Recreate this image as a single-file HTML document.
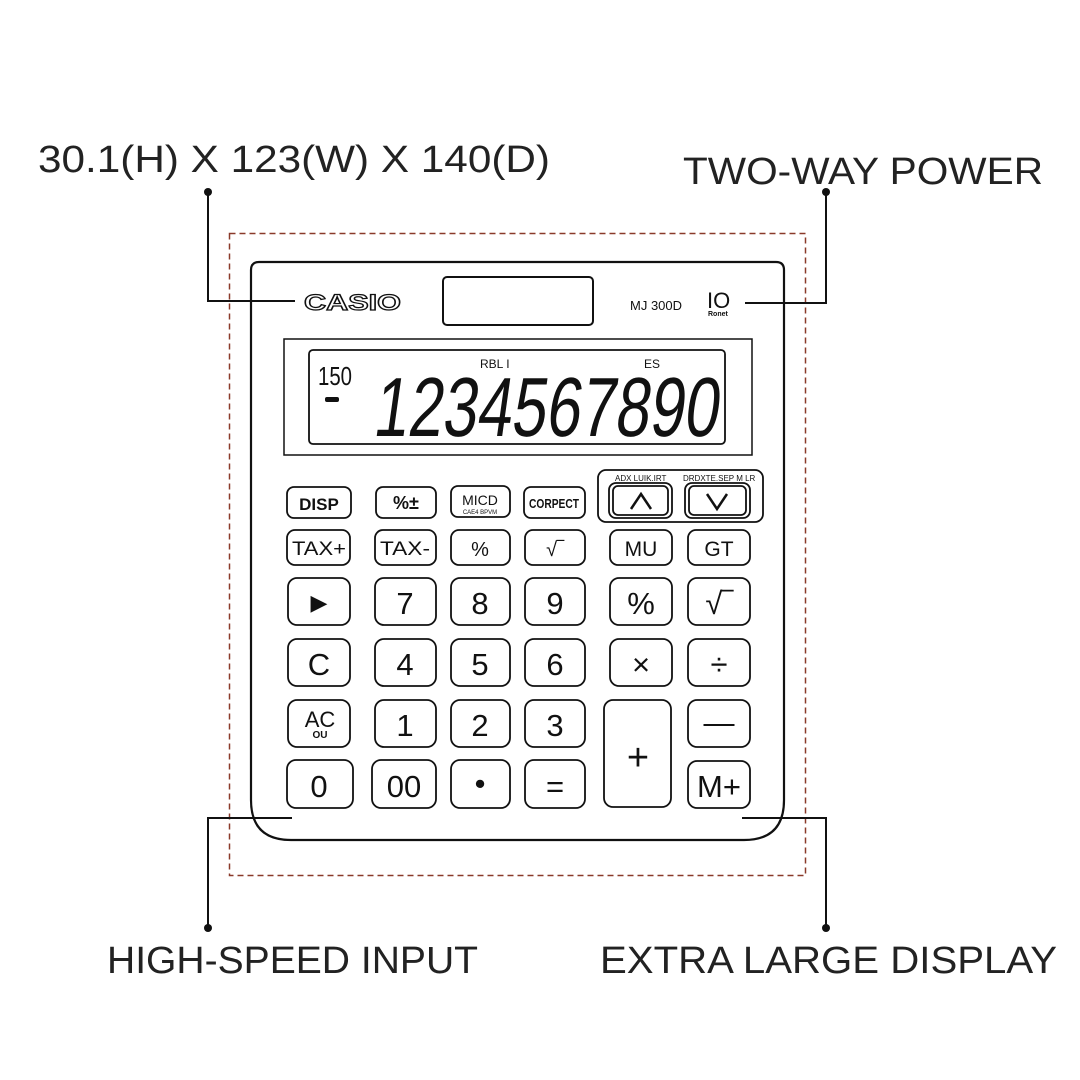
<!DOCTYPE html>
<html><head><meta charset="utf-8"><style>html,body{margin:0;padding:0;background:#fff}svg{display:block}</style></head>
<body>
<svg width="1080" height="1080" viewBox="0 0 1080 1080" xmlns="http://www.w3.org/2000/svg" font-family="Liberation Sans, sans-serif">
<rect width="1080" height="1080" fill="#fff"/>
<g font-size="38" fill="#222" font-weight="300">
<text x="38" y="172" textLength="512" lengthAdjust="spacingAndGlyphs">30.1(H) X 123(W) X 140(D)</text>
<text x="683" y="184" textLength="360" lengthAdjust="spacingAndGlyphs">TWO-WAY POWER</text>
<text x="107" y="973" textLength="371" lengthAdjust="spacingAndGlyphs">HIGH-SPEED INPUT</text>
<text x="600" y="973" textLength="457" lengthAdjust="spacingAndGlyphs">EXTRA LARGE DISPLAY</text>
</g>
<rect x="229.5" y="233.5" width="576" height="642" fill="none" stroke="#8a3a2a" stroke-width="1.5" stroke-dasharray="6,4"/>
<!-- body -->
<path d="M259 262 H776 Q784 262 784 270 V800 Q784 840 744 840 H291 Q251 840 251 800 V270 Q251 262 259 262 Z" fill="#fff" stroke="#111" stroke-width="2.2"/>
<!-- connectors -->
<g stroke="#111" stroke-width="2" fill="none">
<path d="M208 192 V301 H295"/>
<path d="M826 192 V303 H745"/>
<path d="M208 928 V818 H292"/>
<path d="M826 928 V818 H742"/>
</g>
<g fill="#111"><circle cx="208" cy="192" r="4"/><circle cx="826" cy="192" r="4"/><circle cx="208" cy="928" r="4"/><circle cx="826" cy="928" r="4"/></g>
<text x="304" y="310" font-size="22" font-weight="bold" fill="#fff" stroke="#111" stroke-width="1.2" textLength="97" lengthAdjust="spacingAndGlyphs">CASIO</text>
<rect x="443" y="277" width="150" height="48" rx="4" fill="#fff" stroke="#111" stroke-width="2"/>
<text x="630" y="310" font-size="13" fill="#111">MJ 300D</text>
<text x="707" y="308" font-size="22" fill="#111">IO</text>
<text x="708" y="316" font-size="7" font-weight="bold" fill="#111">Ronet</text>
<!-- display -->
<rect x="284" y="339" width="468" height="116" fill="#fff" stroke="#111" stroke-width="1.5"/>
<rect x="309" y="350" width="416" height="94" rx="4" fill="#fff" stroke="#111" stroke-width="1.8"/>
<text x="318" y="385" font-size="26" font-family="Liberation Sans Narrow, sans-serif" fill="#111" textLength="34" lengthAdjust="spacingAndGlyphs">150</text>
<rect x="325" y="397" width="14" height="5" rx="2" fill="#111"/>
<text x="480" y="368" font-size="12" fill="#111">RBL I</text>
<text x="644" y="368" font-size="12" fill="#111">ES</text>
<text x="0" y="0" transform="translate(372,436) skewX(-8)" font-size="84" font-family="Liberation Sans Narrow, sans-serif" fill="#111" textLength="345" lengthAdjust="spacingAndGlyphs">1234567890</text>
<!-- arrows group box -->
<rect x="598" y="470" width="165" height="52" rx="8" fill="#fff" stroke="#111" stroke-width="1.8"/>
<text x="615" y="481" font-size="8" fill="#111">ADX LUIK.IRT</text>
<text x="683" y="481" font-size="8" fill="#111">DRDXTE.SEP M LR</text>
<g fill="#fff" stroke="#111" stroke-width="1.8">
<rect x="609" y="483" width="63" height="35" rx="7"/><rect x="613" y="486" width="55" height="29" rx="5"/>
<rect x="685" y="483" width="65" height="35" rx="7"/><rect x="689" y="486" width="57" height="29" rx="5"/>
</g>
<path d="M631 509 L641 494 L651 509" stroke="#111" stroke-width="2.5" fill="none"/>
<path d="M707 494 L717 509 L727 494" stroke="#111" stroke-width="2.5" fill="none"/>
<!-- keys -->
<g fill="#fff" stroke="#111" stroke-width="1.8">
<rect x="287" y="487" width="64" height="31" rx="7"/><rect x="376" y="487" width="60" height="31" rx="7"/><rect x="451" y="486" width="59" height="31" rx="7"/><rect x="524" y="487" width="61" height="31" rx="7"/>
<rect x="287" y="530" width="63" height="35" rx="8"/><rect x="375" y="530" width="61" height="35" rx="8"/><rect x="451" y="530" width="59" height="35" rx="8"/><rect x="525" y="530" width="60" height="35" rx="8"/><rect x="610" y="530" width="62" height="35" rx="8"/><rect x="688" y="530" width="62" height="35" rx="8"/>
<rect x="288" y="578" width="62" height="47" rx="9"/><rect x="375" y="578" width="61" height="47" rx="9"/><rect x="451" y="578" width="59" height="47" rx="9"/><rect x="525" y="578" width="60" height="47" rx="9"/><rect x="610" y="578" width="62" height="47" rx="9"/><rect x="688" y="578" width="62" height="47" rx="9"/>
<rect x="288" y="639" width="62" height="47" rx="9"/><rect x="375" y="639" width="61" height="47" rx="9"/><rect x="451" y="639" width="59" height="47" rx="9"/><rect x="525" y="639" width="60" height="47" rx="9"/><rect x="610" y="639" width="62" height="47" rx="9"/><rect x="688" y="639" width="62" height="47" rx="9"/>
<rect x="288" y="700" width="62" height="47" rx="9"/><rect x="375" y="700" width="61" height="47" rx="9"/><rect x="451" y="700" width="59" height="47" rx="9"/><rect x="525" y="700" width="60" height="47" rx="9"/><rect x="604" y="700" width="67" height="107" rx="9"/><rect x="688" y="700" width="62" height="47" rx="9"/>
<rect x="287" y="760" width="66" height="48" rx="9"/><rect x="372" y="760" width="64" height="48" rx="9"/><rect x="451" y="760" width="59" height="48" rx="9"/><rect x="525" y="760" width="60" height="48" rx="9"/><rect x="688" y="761" width="62" height="47" rx="9"/>
</g>
<g fill="#111" text-anchor="middle">
<text x="319" y="510" font-size="17" font-weight="bold">DISP</text>
<text x="406" y="509" font-size="18" font-weight="bold">%±</text>
<text x="480" y="505" font-size="14">MICD</text>
<text x="480" y="514" font-size="6">CAE4 BPVM</text>
<text x="554" y="508" font-size="13" font-weight="bold" textLength="50" lengthAdjust="spacingAndGlyphs">CORPECT</text>
<text x="319" y="555" font-size="19" textLength="54" lengthAdjust="spacingAndGlyphs">TAX+</text>
<text x="405" y="555" font-size="19" textLength="50" lengthAdjust="spacingAndGlyphs">TAX-</text>
<text x="480" y="556" font-size="20">%</text>
<text x="555" y="556" font-size="20">√‾</text>
<text x="641" y="556" font-size="21">MU</text>
<text x="719" y="556" font-size="21">GT</text>
<text x="319" y="610" font-size="22">▶</text>
<g font-size="31">
<text x="405" y="614">7</text><text x="480" y="614">8</text><text x="555" y="614">9</text><text x="641" y="614">%</text><text x="719" y="614">√‾</text>
<text x="319" y="675">C</text><text x="405" y="675">4</text><text x="480" y="675">5</text><text x="555" y="675">6</text><text x="641" y="675">×</text><text x="719" y="675">÷</text>
<text x="405" y="736">1</text><text x="480" y="736">2</text><text x="555" y="736">3</text><text x="719" y="733">—</text>
<text x="319" y="797">0</text><text x="404" y="797">00</text><text x="480" y="794">•</text><text x="555" y="797">=</text><text x="719" y="797">M+</text>
</g>
<text x="638" y="770" font-size="38">+</text>
<text x="320" y="727" font-size="22">AC</text>
<text x="320" y="738" font-size="10" font-weight="bold">OU</text>
</g>
</svg>
</body></html>
